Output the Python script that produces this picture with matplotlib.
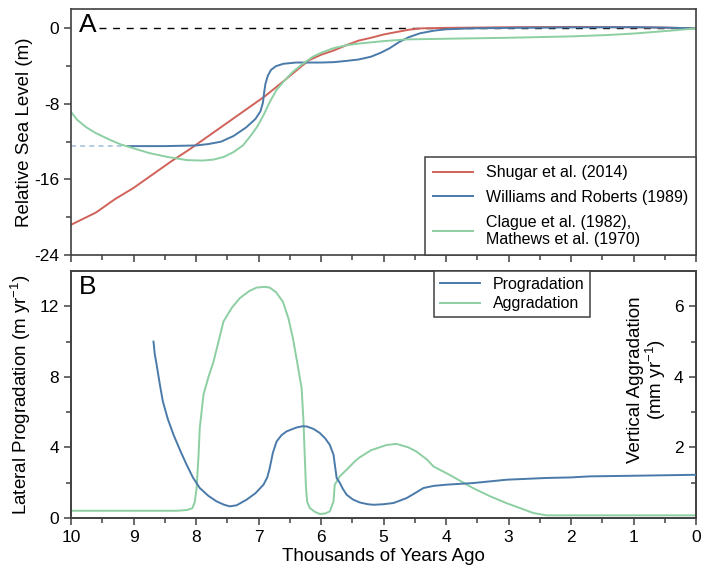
import matplotlib
matplotlib.use("Agg")
import matplotlib.pyplot as plt
from matplotlib.ticker import MultipleLocator, FixedLocator

plt.rcParams['font.family'] = ['Liberation Sans', 'DejaVu Sans']
plt.rcParams['mathtext.fontset'] = 'custom'
plt.rcParams['mathtext.rm'] = 'Liberation Sans'
plt.rcParams['mathtext.it'] = 'Liberation Sans'

# ---------------- Panel A data (kyr ago, m) ----------------
shugar_x = [10.0, 9.6, 9.3, 9.0, 8.7, 8.4, 8.1, 7.8, 7.5, 7.2, 6.9, 6.6, 6.4, 6.2, 6.0,
            5.8, 5.6, 5.4, 5.2, 5.0, 4.8, 4.6, 4.4, 4.0, 3.0, 2.0, 1.0, 0.5, 0.0]
shugar_y = [-20.8, -19.5, -18.1, -16.9, -15.5, -14.1, -12.8, -11.4, -10.0, -8.6, -7.2, -5.6,
            -4.5, -3.4, -2.8, -2.35, -1.8, -1.3, -1.0, -0.65, -0.4, -0.15, 0.0, 0.05, 0.12,
            0.15, 0.12, 0.08, 0.0]

williams_x = [9.09, 8.5, 8.0, 7.8, 7.6, 7.4, 7.2, 7.05, 6.97, 6.93, 6.91, 6.89, 6.85, 6.80,
              6.72, 6.6, 6.4, 6.0, 5.8, 5.6, 5.4, 5.2, 5.05, 4.9, 4.75, 4.6, 4.42, 4.2, 4.0,
              3.6, 3.0, 2.0, 1.0, 0.5, 0.0]
williams_y = [-12.47, -12.47, -12.4, -12.25, -12.0, -11.4, -10.5, -9.6, -8.8, -7.9, -6.8,
              -5.9, -5.0, -4.4, -4.0, -3.75, -3.62, -3.62, -3.58, -3.45, -3.3, -3.0, -2.6,
              -2.1, -1.45, -0.95, -0.53, -0.25, -0.1, 0.0, 0.05, 0.1, 0.12, 0.08, 0.0]

williams_ext_x = [10.0, 9.09]
williams_ext_y = [-12.47, -12.47]

clague_x = [10.0, 9.9, 9.75, 9.6, 9.38, 9.2, 9.0, 8.75, 8.47, 8.15, 7.9, 7.72, 7.55, 7.4,
            7.25, 7.14, 7.02, 6.92, 6.82, 6.71, 6.58, 6.45, 6.3, 6.13, 6.0, 5.81, 5.6, 5.38,
            5.0, 4.63, 4.0, 3.03, 2.0, 1.43, 1.0, 0.63, 0.3, 0.0]
clague_y = [-8.84, -9.7, -10.5, -11.1, -11.8, -12.3, -12.7, -13.2, -13.6, -13.95, -14.0,
            -13.9, -13.6, -13.1, -12.4, -11.5, -10.4, -9.2, -7.8, -6.5, -5.5, -4.6, -3.8,
            -3.0, -2.6, -2.12, -1.8, -1.6, -1.35, -1.17, -1.1, -1.0, -0.85, -0.71, -0.55,
            -0.36, -0.18, 0.0]

# ---------------- Panel B data ----------------
prog_x = [8.68, 8.66, 8.63, 8.58, 8.53, 8.45, 8.36, 8.25, 8.15, 8.05, 7.94, 7.8, 7.67, 7.55,
          7.46, 7.35, 7.19, 7.05, 6.92, 6.86, 6.82, 6.77, 6.71, 6.63, 6.55, 6.4, 6.3, 6.23,
          6.12, 6.02, 5.93, 5.86, 5.80, 5.77, 5.75, 5.70, 5.65, 5.59, 5.49, 5.38, 5.25, 5.16,
          5.0, 4.84, 4.63, 4.5, 4.36, 4.2, 3.99, 3.57, 3.03, 2.39, 2.0, 1.70, 0.9, 0.0]
prog_y = [10.0, 9.3, 8.69, 7.6, 6.6, 5.6, 4.72, 3.8, 3.02, 2.3, 1.7, 1.25, 0.94, 0.75, 0.66,
          0.72, 1.04, 1.4, 1.89, 2.3, 2.83, 3.7, 4.34, 4.7, 4.91, 5.12, 5.2, 5.19, 5.05, 4.82,
          4.5, 4.15, 3.59, 2.8, 2.27, 2.0, 1.65, 1.32, 1.05, 0.88, 0.78, 0.75, 0.78, 0.85,
          1.13, 1.4, 1.7, 1.82, 1.89, 1.98, 2.17, 2.27, 2.3, 2.36, 2.4, 2.45]

aggr_x = [10.0, 8.3, 8.15, 8.06, 8.02, 7.99, 7.96, 7.94, 7.88, 7.8, 7.72, 7.64, 7.56, 7.43,
          7.30, 7.15, 7.03, 6.9, 6.82, 6.72, 6.61, 6.52, 6.45, 6.38, 6.31, 6.28, 6.26, 6.24,
          6.22, 6.18, 6.1, 6.02, 5.94, 5.86, 5.80, 5.78, 5.70, 5.59, 5.45, 5.38, 5.2, 4.95,
          4.79, 4.6, 4.47, 4.3, 4.2, 3.94, 3.57, 3.3, 3.03, 2.8, 2.6, 2.39, 2.0, 0.0]
aggr_y = [0.205, 0.205, 0.225, 0.275, 0.45, 0.85, 1.75, 2.55, 3.5, 4.0, 4.43, 5.0, 5.57, 5.95,
          6.23, 6.43, 6.53, 6.55, 6.53, 6.4, 6.13, 5.65, 5.1, 4.4, 3.68, 2.73, 1.75, 0.85,
          0.45, 0.285, 0.175, 0.115, 0.125, 0.185, 0.47, 0.945, 1.18, 1.37, 1.62, 1.72, 1.92,
          2.07, 2.1, 2.0, 1.88, 1.65, 1.46, 1.22, 0.85, 0.62, 0.42, 0.27, 0.14, 0.075, 0.075,
          0.075]

xticks = [10, 9, 8, 7, 6, 5, 4, 3, 2, 1, 0]
legend_a = ["Shugar et al. (2014)", "Williams and Roberts (1989)",
            "Clague et al. (1982),\nMathews et al. (1970)"]
legend_b = ["Progradation", "Aggradation"]

RED = "#d0625a"
BLUE = "#4a7aaa"
GREEN = "#8ccfa2"
LIGHTBLUE = "#a7c2de"
SPINE = "#404040"

fig = plt.figure(figsize=(7.02, 5.80), dpi=100)
axA = fig.add_axes([71/702, 1-255/580, 625/702, 246/580])
axB = fig.add_axes([71/702, 1-518/580, 625/702, 247/580])

for ax in (axA, axB):
    for s in ax.spines.values():
        s.set_color(SPINE)
        s.set_linewidth(1.2)
    ax.set_xlim(10, 0)
    ax.xaxis.set_major_locator(FixedLocator(xticks))
    ax.xaxis.set_minor_locator(MultipleLocator(0.5))
    ax.tick_params(which='both', direction='out', color=SPINE, width=1.1,
                   labelsize=12.5, top=False, right=False)
    ax.tick_params(which='major', length=5)
    ax.tick_params(which='minor', length=3.5)

# ---------- Panel A ----------
axA.plot([9.55, 0], [0, 0], color='black', lw=1.0, dashes=(5, 4.8))
axA.plot(williams_ext_x, williams_ext_y, color=LIGHTBLUE, lw=1.2, dashes=(3, 2.5))
l1, = axA.plot(shugar_x, shugar_y, color=RED, lw=1.4)
l2, = axA.plot(williams_x, williams_y, color=BLUE, lw=1.4)
l3, = axA.plot(clague_x, clague_y, color=GREEN, lw=1.4)
axA.set_ylim(-24, 2.05)
axA.yaxis.set_major_locator(FixedLocator([0, -8, -16, -24]))
axA.yaxis.set_minor_locator(FixedLocator([-4, -12, -20]))
axA.set_yticklabels(['0', '-8', '-16', '-24'])
axA.tick_params(axis='x', labelbottom=False)
axA.set_ylabel("Relative Sea Level (m)", fontsize=13.5)
axA.yaxis.set_label_coords(-0.061, 0.5)
axA.text(0.012, 0.985, "A", transform=axA.transAxes, fontsize=19, va='top', ha='left')
legA = axA.legend([l1, l2, l3], legend_a, loc='lower right', borderaxespad=0,
                  fontsize=11.5, fancybox=False, edgecolor=SPINE, framealpha=1,
                  handlelength=2.5, labelspacing=0.6, borderpad=0.5)
legA.get_frame().set_linewidth(1.1)

# ---------- Panel B ----------
p1, = axB.plot(prog_x, prog_y, color=BLUE, lw=1.4, zorder=3)
axB.set_ylim(0, 14)
axB.yaxis.set_major_locator(FixedLocator([0, 4, 8, 12]))
axB.yaxis.set_minor_locator(FixedLocator([2, 6, 10]))
axB.set_ylabel("Lateral Progradation (m yr$^{-1}$)", fontsize=13.5)
axB.yaxis.set_label_coords(-0.061, 0.5)
axB.set_xlabel("Thousands of Years Ago", fontsize=13.5, labelpad=2)
axB.text(0.012, 0.985, "B", transform=axB.transAxes, fontsize=19, va='top', ha='left')

ax2 = axB.twinx()
ax2.set_position(axB.get_position())
p2, = ax2.plot(aggr_x, aggr_y, color=GREEN, lw=1.4, zorder=2)
ax2.set_ylim(0, 7)
ax2.yaxis.set_major_locator(FixedLocator([2, 4, 6]))
ax2.yaxis.set_minor_locator(FixedLocator([1, 3, 5]))
for s in ax2.spines.values():
    s.set_color(SPINE)
    s.set_linewidth(1.2)
ax2.tick_params(which='both', direction='in', color=SPINE, width=1.1, labelsize=12.5,
                pad=-9)
ax2.tick_params(which='major', length=5)
ax2.tick_params(which='minor', length=3.5)
for lbl in ax2.get_yticklabels():
    lbl.set_horizontalalignment('right')
axB.set_zorder(ax2.get_zorder() + 1)
axB.patch.set_visible(False)
ax2.text(0.923, 0.56, "Vertical Aggradation\n(mm yr$^{-1}$)", transform=axB.transAxes,
         rotation=90, ha='center', va='center', multialignment='center', fontsize=13.5,
         linespacing=1.0)
legB = axB.legend([p1, p2], legend_b, loc='upper center', bbox_to_anchor=(0.706, 1.0),
                  borderaxespad=0, fontsize=11.5, fancybox=False, edgecolor=SPINE,
                  framealpha=1, handlelength=2.5, labelspacing=0.3, borderpad=0.35)
legB.get_frame().set_linewidth(1.1)

fig.savefig("out.png", dpi=100)
